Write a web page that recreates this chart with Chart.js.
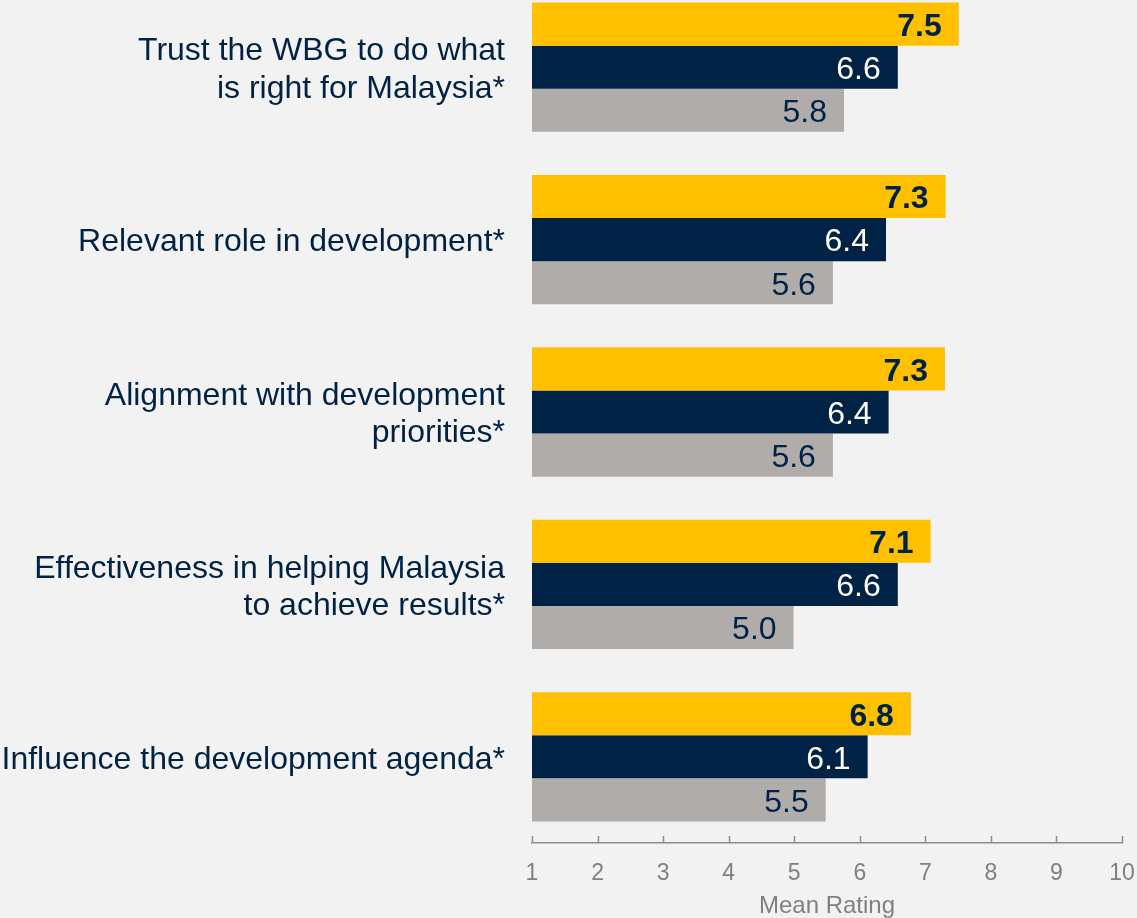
<!DOCTYPE html>
<html>
<head>
<meta charset="utf-8">
<script src="https://cdn.jsdelivr.net/npm/chart.js@4"></script>
<style>
  html, body { margin: 0; padding: 0; background: #F2F2F2; }
  #wrap { position: relative; width: 1137px; height: 918px; overflow: hidden; background: #F2F2F2; }
  #c { position: absolute; left: 0; top: -19px; }
</style>
</head>
<body>
<div id="wrap"><canvas id="c" width="1137" height="937"></canvas></div>
<script>
const categories = [
  ["Trust the WBG to do what", "is right for Malaysia*"],
  "Relevant role in development*",
  ["Alignment with development", "priorities*"],
  ["Effectiveness in helping Malaysia", "to achieve results*"],
  "Influence the development agenda*"
];
const seriesNames = ["Series 1", "Series 2", "Series 3"];
const series1 = [7.51, 7.31, 7.30, 7.08, 6.78];
const series2 = [6.58, 6.40, 6.44, 6.58, 6.12];
const series3 = [5.76, 5.59, 5.59, 4.99, 5.48];
const xTicks = [1, 2, 3, 4, 5, 6, 7, 8, 9, 10];
const axisTitle = "Mean Rating";

const NAVY = "#002244";
const FONT = "'Liberation Sans', Arial, sans-serif";

const valueLabels = {
  id: 'valueLabels',
  afterDatasetsDraw(chart) {
    const ctx = chart.ctx;
    const styles = [
      { color: NAVY, weight: 'bold' },
      { color: '#FFFFFF', weight: 'normal' },
      { color: NAVY, weight: 'normal' }
    ];
    chart.data.datasets.forEach((ds, di) => {
      const meta = chart.getDatasetMeta(di);
      meta.data.forEach((el, i) => {
        const v = ds.data[i];
        ctx.save();
        ctx.font = styles[di].weight + ' 32px ' + FONT;
        ctx.fillStyle = styles[di].color;
        ctx.textAlign = 'right';
        ctx.textBaseline = 'middle';
        ctx.fillText(v.toFixed(1), el.x - 17, el.y + 3);
        ctx.restore();
      });
    });
  }
};

const innerTicks = {
  id: 'innerTicks',
  afterDraw(chart) {
    const xs = chart.scales.x;
    const ctx = chart.ctx;
    ctx.save();
    ctx.strokeStyle = '#8C8C8C';
    ctx.lineWidth = 1.5;
    xTicks.forEach(t => {
      const px = Math.round(xs.getPixelForValue(t)) + 0.5;
      ctx.beginPath();
      ctx.moveTo(px, xs.top);
      ctx.lineTo(px, xs.top - 7);
      ctx.stroke();
    });
    ctx.restore();
  }
};

new Chart(document.getElementById('c'), {
  type: 'bar',
  data: {
    labels: categories,
    datasets: [
      { label: seriesNames[0], data: series1, backgroundColor: '#FFC000' },
      { label: seriesNames[1], data: series2, backgroundColor: NAVY },
      { label: seriesNames[2], data: series3, backgroundColor: '#AFACAA' }
    ]
  },
  options: {
    indexAxis: 'y',
    responsive: false,
    devicePixelRatio: 1,
    animation: false,
    layout: { padding: { left: 0, right: 15, top: 0, bottom: 0 } },
    datasets: { bar: { categoryPercentage: 0.75, barPercentage: 1.0, borderWidth: 0 } },
    plugins: { legend: { display: false }, tooltip: { enabled: false }, title: { display: false } },
    scales: {
      x: {
        type: 'linear',
        position: 'bottom',
        min: 1, max: 10,
        afterBuildTicks: s => { s.ticks = xTicks.map(v => ({ value: v })); },
        ticks: { color: '#808080', font: { family: FONT, size: 23 }, padding: 17 },
        grid: { display: false, drawTicks: false },
        border: { display: true, color: '#8C8C8C', width: 1.5 },
        title: { display: true, text: axisTitle, color: '#808080', font: { family: FONT, size: 24 }, padding: { top: 0, bottom: -3 } },
        afterFit: s => { s.height = 75; s.paddingLeft = 0; s.paddingRight = 0; }
      },
      y: {
        type: 'category',
        offset: true,
        grid: { display: false, drawTicks: false },
        border: { display: false },
        ticks: { color: NAVY, font: { family: FONT, size: 32, lineHeight: 1.16 }, padding: 27, labelOffset: 3 },
        afterFit: s => { s.width = 532; s.paddingTop = 0; s.paddingBottom = 0; }
      }
    }
  },
  plugins: [valueLabels, innerTicks]
});
</script>
</body>
</html>
